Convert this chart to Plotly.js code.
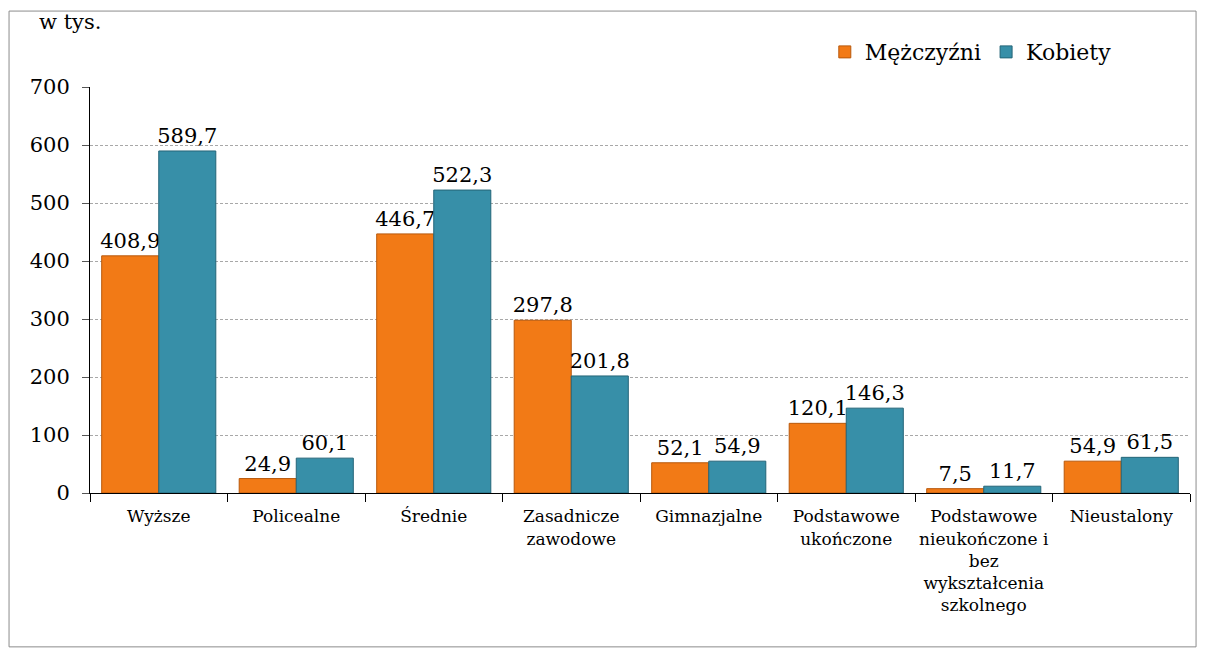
<!DOCTYPE html>
<html>
<head>
<meta charset="utf-8">
<script src="https://cdn.plot.ly/plotly-3.0.1.min.js"></script>
<style>
html,body{margin:0;padding:0;background:#fff;}
#chart{width:1206px;height:657px;}
</style>
</head>
<body>
<div id="chart"></div>
<script>
const categories = ["Wyższe","Policealne","Średnie","Zasadnicze<br>zawodowe","Gimnazjalne","Podstawowe<br>ukończone","Podstawowe<br>nieukończone i<br>bez<br>wykształcenia<br>szkolnego","Nieustalony"];
const men = [408.9, 24.9, 446.7, 297.8, 52.1, 120.1, 7.5, 54.9];
const women = [589.7, 60.1, 522.3, 201.8, 54.9, 146.3, 11.7, 61.5];
const seriesNames = ["Mężczyźni","Kobiety"];
const fmt = v => v.toFixed(1).replace('.', ',');

const FONT = 'DejaVu Serif';

const traces = [
  {type:'bar', name:seriesNames[0], x:categories, y:men, text:men.map(fmt),
   textposition:'outside', constraintext:'none', cliponaxis:false,
   textfont:{family:FONT,size:21,color:'#000'},
   marker:{color:'#F27A16', line:{color:'#B8590C', width:1}}, hoverinfo:'x+y'},
  {type:'bar', name:seriesNames[1], x:categories, y:women, text:women.map(fmt),
   textposition:'outside', constraintext:'none', cliponaxis:false,
   textfont:{family:FONT,size:21,color:'#000'},
   marker:{color:'#378FA8', line:{color:'#246578', width:1}}, hoverinfo:'x+y'}
];

const layout = {
  width:1206, height:657,
  margin:{l:90, r:16, t:87, b:164},
  paper_bgcolor:'#fff', plot_bgcolor:'#fff',
  font:{family:FONT, color:'#000', size:21},
  barmode:'group', bargap:0.17, bargroupgap:0,
  showlegend:true,
  legend:{orientation:'h', x:0.668, y:1.086, xanchor:'left', yanchor:'middle',
          font:{family:FONT,size:22,color:'#000'}, bgcolor:'rgba(0,0,0,0)', traceorder:'normal'},
  xaxis:{type:'category', tickson:'boundaries', ticks:'outside', ticklen:8, tickcolor:'#000',
         tickangle:0, ticklabelstandoff:8,
         showline:true, linecolor:'#000', linewidth:1, showgrid:false,
         tickfont:{family:FONT,size:17,color:'#000'}, fixedrange:true},
  yaxis:{range:[0,700], dtick:100, tick0:0, ticks:'outside', ticklen:7, tickcolor:'#555',
         ticklabelstandoff:8,
         showline:true, linecolor:'#000', linewidth:1,
         showgrid:true, gridcolor:'#a8a8a8', griddash:'3px,2px', gridwidth:1,
         zeroline:false, tickfont:{family:FONT,size:21,color:'#000'}, fixedrange:true},
  annotations:[
    {text:'w tys.', xref:'paper', yref:'paper', x:-0.0482, y:1.160, xanchor:'left', yanchor:'middle',
     showarrow:false, font:{family:FONT,size:21,color:'#000'}}
  ],
  shapes:[
    {type:'rect', xref:'paper', yref:'paper', x0:-0.0736, x1:1.0055, y0:-0.379, y1:1.187,
     line:{color:'#8c8c8c', width:1}, fillcolor:'rgba(0,0,0,0)', layer:'below'}
  ]
};

Plotly.newPlot('chart', traces, layout, {displayModeBar:false, staticPlot:true});
</script>
</body>
</html>
